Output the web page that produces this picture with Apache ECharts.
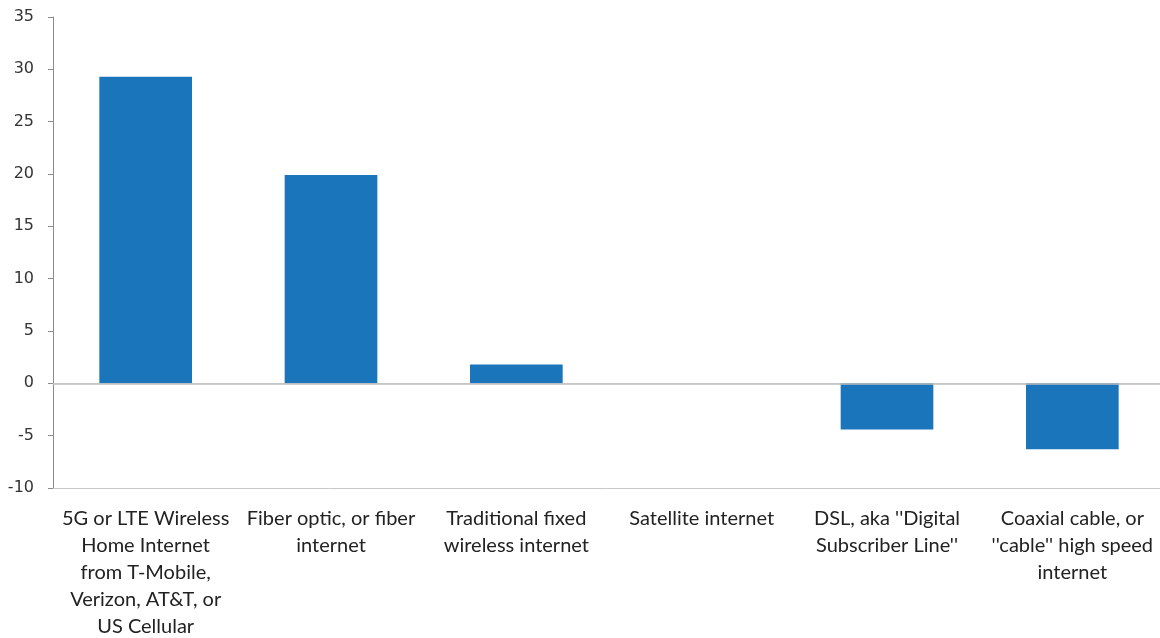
<!DOCTYPE html>
<html>
<head>
<meta charset="utf-8">
<script src="https://cdn.jsdelivr.net/npm/echarts@6/dist/echarts.min.js"></script>
<style>
  html, body { margin: 0; padding: 0; background: #fff; }
  #main { width: 1160px; height: 638px; }
</style>
</head>
<body>
<div id="main"></div>
<script>
// category labels, broken into lines as in the picture
var categories = [
  '5G or LTE Wireless\nHome Internet\nfrom T-Mobile,\nVerizon, AT&T, or\nUS Cellular',
  'Fiber optic, or fiber\ninternet',
  'Traditional fixed\nwireless internet',
  'Satellite internet',
  'DSL, aka \'\'Digital\nSubscriber Line\'\'',
  'Coaxial cable, or\n\'\'cable\'\' high speed\ninternet'
];
var values = [29.3, 19.9, 1.8, 0, -4.4, -6.3];
var yMin = -10, yMax = 35, yStep = 5;

var chart = echarts.init(document.getElementById('main'));

var option = {
  animation: false,
  grid: { left: 53, top: 17, width: 1112, height: 471, outerBoundsMode: 'none', containLabel: false },
  xAxis: [{
    type: 'category',
    data: categories,
    position: 'bottom',
    axisLine: { onZero: false, lineStyle: { color: '#c8c8c8', width: 1 } },
    axisTick: { show: false },
    axisLabel: {
      interval: 0,
      margin: 17,
      fontFamily: 'Lato',
      fontSize: 20,
      lineHeight: 27,
      color: '#222',
      align: 'center'
    }
  }, {
    // thin frame line along the top
    type: 'category',
    data: categories,
    position: 'top',
    axisLine: { show: true, lineStyle: { color: '#e2e2e2', width: 1 } },
    axisTick: { show: false },
    axisLabel: { show: false }
  }],
  yAxis: {
    type: 'value',
    min: yMin,
    max: yMax,
    interval: yStep,
    axisLine: { show: true, lineStyle: { color: '#8c8c8c' } },
    axisTick: { show: true, inside: false, length: 5, lineStyle: { color: '#8c8c8c' } },
    splitLine: { show: false },
    axisLabel: {
      margin: 19,
      fontFamily: 'DejaVu Sans',
      fontSize: 16,
      color: '#333'
    }
  },
  series: [{
    type: 'bar',
    data: values,
    barWidth: '50%',
    itemStyle: { color: '#1b75bb' },
    markLine: {
      silent: true,
      symbol: 'none',
      label: { show: false },
      lineStyle: { color: '#bdbdbd', type: 'solid', width: 1.5 },
      data: [{ yAxis: 0 }]
    }
  }]
};

chart.setOption(option);
</script>
</body>
</html>
